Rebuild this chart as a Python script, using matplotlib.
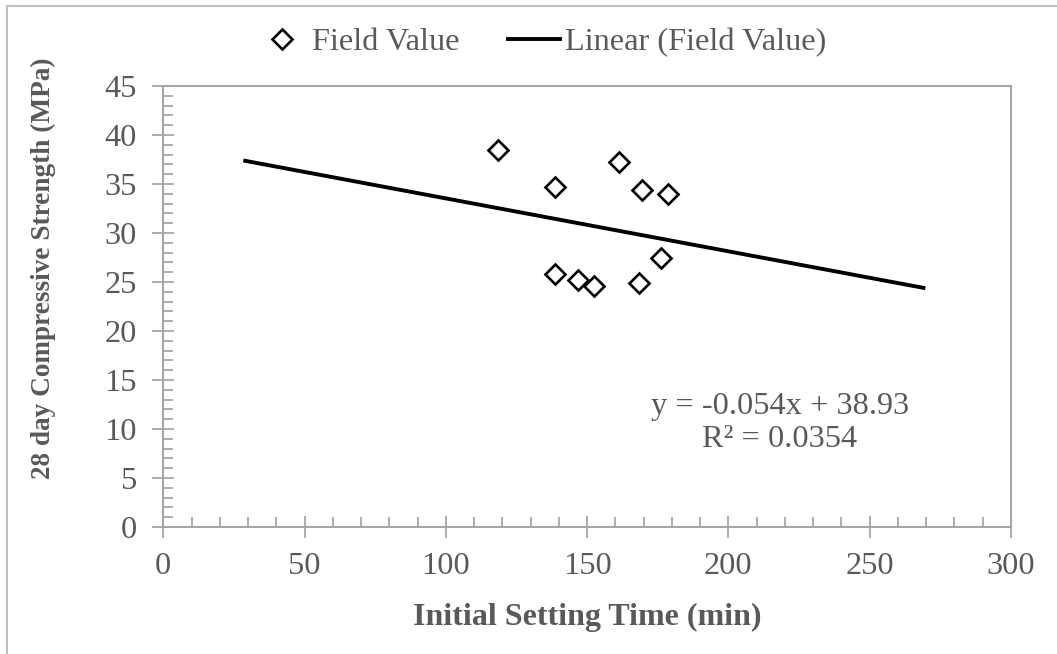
import numpy as np
import matplotlib
matplotlib.use('Agg')
import matplotlib.pyplot as plt
from matplotlib.ticker import MultipleLocator
from matplotlib.lines import Line2D

# field values
set_time = [118.6, 161.4, 138.6, 169.4, 178.6, 176.3, 138.6, 146.6, 152.6, 168.5]
strength = [38.5, 37.2, 34.7, 34.4, 34.0, 27.4, 25.8, 25.2, 24.6, 24.9]

# linear trendline as printed on the chart
fit_slope = -0.054
fit_intercept = 38.93
trend_x = [29, 269]
eq_text = 'y = -0.054x + 38.93\nR² = 0.0354'

text_col = '#595959'
axis_col = '#A6A6A6'
fs = 23.3
plt.rcParams['font.family'] = ['Liberation Serif', 'DejaVu Serif']

fig = plt.figure(figsize=(10.57, 6.54), dpi=100)
ax = fig.add_axes([163.3 / 1057, 1 - 527 / 654, (1011 - 163.3) / 1057, (527 - 86) / 654])

# outer chart frame (top and left edges visible)
fig.add_artist(Line2D([7 / 1057, 1], [1 - 6 / 654, 1 - 6 / 654], transform=fig.transFigure,
                      color='#BFBFBF', lw=1.5))
fig.add_artist(Line2D([7 / 1057, 7 / 1057], [0, 1 - 6 / 654], transform=fig.transFigure,
                      color='#BFBFBF', lw=1.5))

tx = np.array(trend_x, dtype=float)
ax.plot(tx, fit_slope * tx + fit_intercept, color='black', lw=2.8, zorder=2)
ax.plot(set_time, strength, linestyle='none', marker='D', markersize=10,
        markerfacecolor='white', markeredgecolor='black', markeredgewidth=1.9, zorder=3)

ax.set_xlim(0, 300)
ax.set_ylim(0, 45)
ax.xaxis.set_major_locator(MultipleLocator(50))
ax.xaxis.set_minor_locator(MultipleLocator(10))
ax.yaxis.set_major_locator(MultipleLocator(5))
ax.yaxis.set_minor_locator(MultipleLocator(1))

for s in ax.spines.values():
    s.set_color(axis_col)
    s.set_linewidth(1.5)
ax.tick_params(which='major', direction='inout', length=16, width=1.3, color=axis_col,
               labelsize=fs, labelcolor=text_col)
ax.tick_params(which='minor', direction='in', length=7, width=1.3, color=axis_col)
ax.tick_params(axis='x', which='major', pad=10)
ax.tick_params(axis='y', which='major', pad=11)

fig.text(587 / 1057, 1 - 617 / 654, 'Initial Setting Time (min)', ha='center', va='center',
         fontsize=23, fontweight='bold', color=text_col)
fig.text(43 / 1057, 1 - 268 / 654, '28 day Compressive Strength (MPa)', ha='center', va='center',
         rotation=90, fontsize=19.6, fontweight='bold', color=text_col)

fig.text(780 / 1057, 1 - 423 / 654, eq_text, ha='center', va='center', fontsize=fs,
         color=text_col, linespacing=1.2)

handles = [Line2D([], [], linestyle='none', marker='D', markersize=10, markerfacecolor='white',
                  markeredgecolor='black', markeredgewidth=1.9),
           Line2D([], [], color='black', lw=2.8)]
fig.legend(handles, ['Field Value', 'Linear (Field Value)'], loc='center',
           bbox_to_anchor=(541 / 1057, 1 - 42 / 654), ncol=2, frameon=False,
           fontsize=fs, labelcolor=text_col, handlelength=1.6, handletextpad=0.15,
           columnspacing=1.5)

fig.savefig('out.png', dpi=100)
